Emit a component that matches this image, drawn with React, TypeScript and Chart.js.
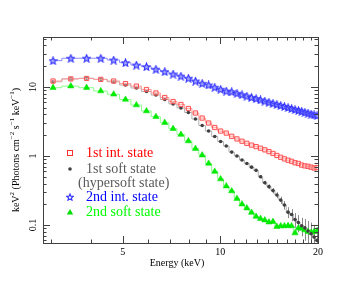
import React, { useEffect, useRef } from 'react';
import { Chart, registerables } from 'chart.js';
Chart.register(...registerables);

// Energy bin centres (keV)
const energies = [3.05, 3.46, 3.87, 4.28, 4.69, 5.1, 5.51, 5.92, 6.33, 6.74, 7.15, 7.56, 7.97, 8.38, 8.79, 9.2, 9.61, 10.02, 10.43, 10.84, 11.25, 11.66, 12.07, 12.48, 12.89, 13.3, 13.71, 14.12, 14.53, 14.94, 15.35, 15.76, 16.17, 16.58, 16.99, 17.4, 17.81, 18.22, 18.63, 19.04, 19.45, 19.86];

// 1st intermediate state (red squares)
const int1 = [12.2, 13.1, 13.3, 12.9, 12.2, 11.2, 10.3, 9.2, 8.19, 7.04, 6.16, 5.58, 4.88, 4.2, 3.55, 3.01, 2.59, 2.3, 2.15, 1.93, 1.77, 1.64, 1.53, 1.44, 1.37, 1.3, 1.23, 1.16, 1.09, 1.02, 0.96, 0.91, 0.87, 0.84, 0.8, 0.78, 0.74, 0.72, 0.71, 0.69, 0.67, 0.68];

// 1st soft state / hypersoft (grey dots)
const soft1 = [11.9, 13.1, 13.4, 12.9, 11.9, 10.7, 9.67, 8.6, 7.65, 6.59, 5.67, 4.97, 4.27, 3.44, 2.77, 2.3, 1.92, 1.62, 1.4, 1.14, 1.0, 0.875, 0.78, 0.69, 0.62, 0.5, 0.41, 0.36, 0.316, 0.272, 0.23, 0.195, 0.154, 0.142, 0.12, 0.109, 0.098, 0.091, 0.082, 0.075, 0.067, 0.06];
const soft1Err = [0.005, 0.005, 0.005, 0.005, 0.005, 0.005, 0.005, 0.005, 0.005, 0.005, 0.01, 0.01, 0.01, 0.015, 0.015, 0.02, 0.02, 0.02, 0.025, 0.025, 0.03, 0.03, 0.04, 0.04, 0.05, 0.06, 0.07, 0.08, 0.09, 0.1, 0.12, 0.14, 0.18, 0.2, 0.24, 0.28, 0.3, 0.35, 0.4, 0.45, 0.5, 0.55];

// 2nd intermediate state (blue stars)
const int2 = [24.1, 26.1, 26.1, 26.1, 24.6, 22.5, 20.8, 19.7, 18.1, 16.7, 15.4, 14.4, 13.4, 12.2, 11.3, 10.7, 9.9, 9.26, 8.75, 8.52, 8.11, 7.73, 7.38, 7.07, 6.79, 6.5, 6.25, 6.02, 5.81, 5.6, 5.4, 5.22, 5.05, 4.88, 4.72, 4.58, 4.45, 4.31, 4.19, 4.06, 3.96, 3.85];

// 2nd soft state (green triangles)
const soft2 = [9.77, 10.3, 9.77, 8.75, 7.84, 6.59, 5.48, 4.49, 3.71, 3.04, 2.49, 2.05, 1.65, 1.28, 1.03, 0.78, 0.596, 0.464, 0.367, 0.311, 0.242, 0.201, 0.176, 0.152, 0.133, 0.124, 0.118, 0.11, 0.112, 0.095, 0.097, 0.097, 0.098, 0.097, 0.0766, 0.0906, 0.089, 0.0847, 0.0805, 0.078, 0.0805, 0.082];

const xMajorTicks = [5, 10, 20];
const xMinorTicks = [3, 4, 6, 7, 8, 9, 11, 12, 13, 14, 15, 16, 17, 18, 19];
const yMajorTicks = [0.1, 1, 10];
const yMinorTicks = [0.06, 0.07, 0.08, 0.09, 0.2, 0.3, 0.4, 0.5, 0.6, 0.7, 0.8, 0.9, 2, 3, 4, 5, 6, 7, 8, 9, 20, 30, 40, 50];

const FONT = '"Liberation Serif", "Times New Roman", serif';

function makeStar(size: number, color: string, fill: string): HTMLCanvasElement {
  const c = document.createElement('canvas');
  c.width = size;
  c.height = size;
  const g = c.getContext('2d')!;
  g.strokeStyle = color;
  g.fillStyle = fill;
  g.lineWidth = 1.1;
  g.beginPath();
  const cx = size / 2, cy = size / 2 + 0.4, R = size / 2 - 0.6, r = R * 0.45;
  for (let i = 0; i < 10; i++) {
    const a = -Math.PI / 2 + (i * Math.PI) / 5;
    const rad = i % 2 === 0 ? R : r;
    const x = cx + rad * Math.cos(a), y = cy + rad * Math.sin(a);
    if (i === 0) g.moveTo(x, y); else g.lineTo(x, y);
  }
  g.closePath();
  g.fill();
  g.stroke();
  return c;
}

const toPts = (vals: number[]) => energies.map((e, i) => ({ x: e, y: vals[i] }));

export default function App() {
  const ref = useRef<HTMLCanvasElement | null>(null);
  useEffect(() => {
    if (!ref.current) return;
    const star = makeStar(9, '#3030ff', 'rgba(140,140,255,0.6)');
    const legendStar = makeStar(8, '#3030ff', 'rgba(255,255,255,0)');

    const decoPlugin = {
      id: 'deco',
      beforeDatasetsDraw(chart: any) {
        const { ctx } = chart;
        const xs = chart.scales.x, ys = chart.scales.y;
        ctx.save();
        ctx.strokeStyle = '#8a8a8a';
        ctx.lineWidth = 1;
        energies.forEach((e, i) => {
          const px = Math.round(xs.getPixelForValue(e)) + 0.5;
          const v = soft1[i], f = soft1Err[i];
          const y1 = ys.getPixelForValue(v * (1 + f));
          const y2 = ys.getPixelForValue(Math.max(v * (1 - f), 0.0001));
          ctx.beginPath();
          ctx.moveTo(px, y1);
          ctx.lineTo(px, Math.min(y2, chart.chartArea.bottom));
          ctx.stroke();
        });
        ctx.restore();
      },
      afterDraw(chart: any) {
        const { ctx, chartArea: a } = chart;
        const xs = chart.scales.x, ys = chart.scales.y;
        ctx.save();
        // frame
        ctx.strokeStyle = '#404040';
        ctx.lineWidth = 1;
        ctx.strokeRect(Math.round(a.left) + 0.5, Math.round(a.top) + 0.5, Math.round(a.right - a.left), Math.round(a.bottom - a.top));
        // x ticks (inward, top & bottom)
        const xt = (v: number, len: number) => {
          const px = Math.round(xs.getPixelForValue(v)) + 0.5;
          ctx.beginPath();
          ctx.moveTo(px, a.bottom); ctx.lineTo(px, a.bottom - len);
          ctx.moveTo(px, a.top); ctx.lineTo(px, a.top + len);
          ctx.stroke();
        };
        xMajorTicks.forEach(v => xt(v, 7));
        xMinorTicks.forEach(v => xt(v, 3.5));
        const yt = (v: number, len: number) => {
          const py = Math.round(ys.getPixelForValue(v)) + 0.5;
          ctx.beginPath();
          ctx.moveTo(a.left, py); ctx.lineTo(a.left + len, py);
          ctx.moveTo(a.right, py); ctx.lineTo(a.right - len, py);
          ctx.stroke();
        };
        yMajorTicks.forEach(v => yt(v, 7));
        yMinorTicks.forEach(v => yt(v, 3.5));
        // tick labels
        ctx.fillStyle = '#000';
        ctx.font = `10px ${FONT}`;
        ctx.textAlign = 'center';
        ctx.textBaseline = 'middle';
        xMajorTicks.forEach(v => ctx.fillText(String(v), xs.getPixelForValue(v), a.bottom + 9));
        yMajorTicks.forEach(v => {
          ctx.save();
          ctx.translate(a.left - 10, ys.getPixelForValue(v));
          ctx.rotate(-Math.PI / 2);
          ctx.fillText(String(v), 0, 0);
          ctx.restore();
        });
        // x title
        ctx.fillText('Energy (keV)', 177, a.bottom + 20);
        // y title with superscripts
        const segs: [string, boolean][] = [['keV', false], ['2', true], [' (Photons cm', false], ['\u22122', true], [' s', false], ['\u22121', true], [' keV', false], ['\u22121', true], [')', false]];
        const mainF = `10px ${FONT}`, supF = `7px ${FONT}`;
        let total = 0;
        segs.forEach(([t, s]) => { ctx.font = s ? supF : mainF; total += ctx.measureText(t).width; });
        ctx.save();
        ctx.translate(16, 150);
        ctx.rotate(-Math.PI / 2);
        ctx.textAlign = 'left';
        let cx = -total / 2;
        segs.forEach(([t, s]) => {
          ctx.font = s ? supF : mainF;
          ctx.fillText(t, cx, s ? -3.5 : 0);
          cx += ctx.measureText(t).width;
        });
        ctx.restore();
        // legend
        ctx.font = `14px ${FONT}`;
        ctx.textAlign = 'left';
        ctx.textBaseline = 'middle';
        const lx = 70, tx = 86;
        // red square
        ctx.strokeStyle = '#ff3030';
        ctx.strokeRect(lx - 2.5, 153 - 2.5, 5, 5);
        ctx.fillStyle = '#ff0000';
        ctx.fillText('1st int. state', tx, 153);
        // grey dot
        ctx.fillStyle = '#404040';
        ctx.beginPath(); ctx.arc(lx, 169, 1.8, 0, Math.PI * 2); ctx.fill();
        ctx.fillStyle = '#5a5a5a';
        ctx.fillText('1st soft state', tx, 169);
        ctx.fillText('(hypersoft state)', 78, 183);
        // blue star
        ctx.drawImage(legendStar, lx - 4, 197 - 4);
        ctx.fillStyle = '#0000ff';
        ctx.fillText('2nd int. state', tx, 197);
        // green triangle
        ctx.fillStyle = '#00e000';
        ctx.beginPath(); ctx.moveTo(lx, 209); ctx.lineTo(lx + 3.2, 214.5); ctx.lineTo(lx - 3.2, 214.5); ctx.closePath(); ctx.fill();
        ctx.fillStyle = '#00ff00';
        ctx.fillText('2nd soft state', tx, 212);
        ctx.restore();
      },
    };

    const chart = new Chart(ref.current, {
      type: 'line',
      data: {
        datasets: [
          {
            label: '2nd int. state',
            data: toPts(int2),
            stepped: 'middle',
            borderColor: '#8a8aff',
            borderWidth: 1,
            pointStyle: star as any,
            pointRadius: 4,
          },
          {
            label: '1st int. state',
            data: toPts(int1),
            stepped: 'middle',
            borderColor: '#ff9a9a',
            borderWidth: 1,
            pointStyle: 'rect',
            pointRadius: 3,
            pointBackgroundColor: 'rgba(255,200,200,0.4)',
            pointBorderColor: '#ff5050',
            pointBorderWidth: 1,
          },
          {
            label: '1st soft state',
            data: toPts(soft1),
            stepped: 'middle',
            borderColor: '#b0b0b0',
            borderWidth: 1,
            pointStyle: 'circle',
            pointRadius: 1.8,
            pointBackgroundColor: '#404040',
            pointBorderColor: '#404040',
            pointBorderWidth: 0,
          },
          {
            label: '2nd soft state',
            data: toPts(soft2),
            stepped: 'middle',
            borderColor: '#8aff8a',
            borderWidth: 1,
            pointStyle: 'triangle',
            pointRadius: 3.6,
            pointBackgroundColor: '#00ee00',
            pointBorderColor: '#00dd00',
            pointBorderWidth: 0.5,
          },
        ],
      },
      options: {
        responsive: false,
        animation: false,
        layout: { padding: { left: 43, top: 37, right: 45, bottom: 38 } },
        plugins: { legend: { display: false }, tooltip: { enabled: false } },
        scales: {
          x: { type: 'logarithmic', min: 2.84, max: 20, display: false },
          y: { type: 'logarithmic', min: 0.055, max: 53, display: false },
        },
      },
      plugins: [decoPlugin],
    } as any);
    return () => chart.destroy();
  }, []);

  return (
    <div style={{ position: 'fixed', left: 0, top: 0, width: 363, height: 281, background: '#fff' }}>
      <canvas ref={ref} width={363} height={281} style={{ width: 363, height: 281 }} />
    </div>
  );
}
